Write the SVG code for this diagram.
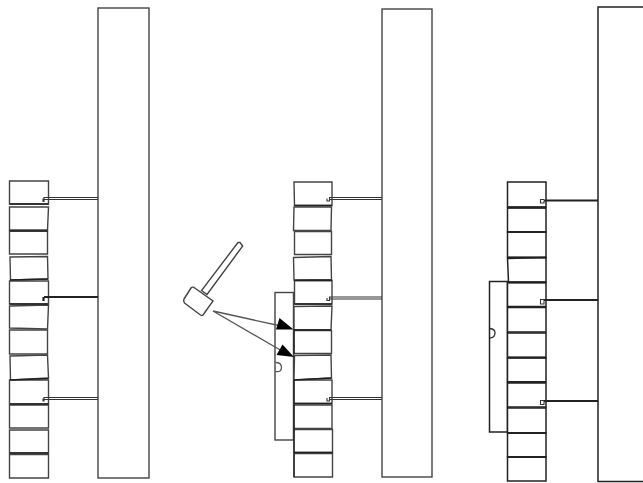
<svg xmlns="http://www.w3.org/2000/svg" width="643" height="483" viewBox="0 0 643 483">
<style>
.o{fill:#fff;stroke:#444;stroke-width:1.4}
.t{fill:#fff;stroke:#222;stroke-width:1.5}
.c{fill:none;stroke:#333;stroke-width:1.1}
.k{fill:none;stroke:#222;stroke-width:2.2}
.j{fill:none;stroke:#222;stroke-width:1.3}
.h{fill:none;stroke:#333;stroke-width:1.3}
.a{fill:#000;stroke:none}
.s{fill:none;stroke:#555;stroke-width:1.3}
</style>
<rect width="643" height="483" fill="#fff"/>
<g id="left-column">
<rect id="l-wall" class="o" x="98" y="8" width="51" height="470"/>
<polygon class="o" points="9.5,181 48.5,181 48.5,204 9.5,204"/>
<polygon class="o" points="9.5,207 48.5,207 47.5,230 9.5,230"/>
<polygon class="o" points="9.5,231 47.5,231 47.5,254 9.5,254"/>
<polygon class="o" points="10,257 47.5,256.500 48,279 10.500,280"/>
<polygon class="o" points="9.500,281 48.500,281 48.500,304 9.500,304"/>
<polygon class="o" points="9.500,306 48.500,305 47.500,329 9.500,328"/>
<polygon class="o" points="9.500,330 47.500,330 47.500,354 9.500,354"/>
<polygon class="o" points="10,356 47.500,355 48.500,378 10.500,380"/>
<polygon class="o" points="9.500,380 48.500,380 48.500,404 9.500,404"/>
<polygon class="o" points="9.500,405 48.500,405 48.500,428 9.500,428"/>
<polygon class="o" points="9.500,430 48.500,430 48.500,453 9.500,453"/>
<polygon class="o" points="9.500,454.500 48.500,454.500 48.500,478 9.500,478"/>
<path class="j" d="M9.500,204H48.500M9.500,231H47.500M10,280L48,279M9.500,304H48M10,380L48.500,378.500M10,404H48.500M9.500,453H48.500"/>
</g>
<g id="middle-column">
<rect id="m-wall" class="o" x="382" y="9" width="50" height="468"/>
<rect id="m-plate" class="o" x="275" y="292.500" width="18.500" height="147.500"/>
<path class="s" d="M275.500,362.500 Q281.500,362.500 281.500,367.500 Q281.500,372.500 275.500,371.500"/>
<polygon class="o" points="294,182 332,182 332,205.500 294.500,205.500"/>
<polygon class="o" points="294,207 331.500,207 331,230.500 293.500,230.500"/>
<polygon class="o" points="294.500,231.500 331.500,231.500 331.500,254.500 294.500,254.500"/>
<polygon class="o" points="293.500,257.500 331,256.500 331.500,279.500 294,280"/>
<polygon class="o" points="294.500,280.500 332,280.500 332,304 294.500,304"/>
<polygon class="o" points="294,306.500 332,306 331,330 294,329.500"/>
<polygon class="o" points="294,330.500 331.500,330.500 331.500,353.500 294,353.500"/>
<polygon class="o" points="294.500,355.500 331,355 331.500,378 294,380"/>
<polygon class="o" points="294,380 332,380 332,403.500 294,403.500"/>
<polygon class="o" points="294,405 332,405 332,428.500 294,428.500"/>
<polygon class="o" points="294,429.500 332.500,429.500 332.500,452.500 294,452.500"/>
<polygon class="o" points="294,453.500 332.500,453.500 332.500,477 294,477"/>
<path class="j" d="M294.500,205.500H332M294.500,280.500H332M294.500,304H332M294,330H331M294,380L331.500,378M294,403.500H332M294,452.500H332.500M294,380V477M294,330V354"/>
</g>
<g id="right-column">
<rect id="r-wall" class="t" x="598" y="7" width="60" height="474.500"/>
<rect id="r-plate" class="t" x="489.500" y="281.500" width="18" height="150.500"/>
<path class="h" d="M490,328.500 Q495,329 495,333 Q495,337.500 490,338"/>
<rect class="t" x="507.500" y="182" width="38.500" height="25"/>
<rect class="t" x="507.500" y="208" width="38.500" height="24"/>
<rect class="t" x="507.500" y="232" width="38.500" height="25.500"/>
<polygon class="t" points="507.500,258.500 546,257.500 546,282 508.500,282"/>
<rect class="t" x="507.500" y="282.500" width="38.500" height="24"/>
<rect class="t" x="507.500" y="307.500" width="38.500" height="24.500"/>
<rect class="t" x="507.500" y="333" width="38.500" height="24.500"/>
<rect class="t" x="507.500" y="358" width="38.500" height="24"/>
<rect class="t" x="507.500" y="383" width="38.500" height="24"/>
<rect class="t" x="507.500" y="408" width="38.500" height="25"/>
<rect class="t" x="507.500" y="433" width="38.500" height="24"/>
<rect class="t" x="507.500" y="457" width="38.500" height="24"/>
<path class="k" d="M507.500,207.500H546M507.500,232H546M507.500,257.500H546M507.500,282.500H546M507.500,307H546M507.500,357.500H546M507.500,382H546M507.500,433H546M507.500,457H546"/>
</g>
<g id="hammer">
<polygon class="o" points="201.500,290.500 207,294.500 242.700,246 240,242.500 238,242.500"/>
<path class="o" d="M184,299 L191,288 Q192,286.500 194,287.500 L213,301 L203,315 Q202,316 200.500,315 L184.500,303 Q183,301 184,299 Z"/>
</g>
<g id="connectors">
<path class="c" d="M98,197.500H44V201.500H43V198.500 M98,199.500H44.500"/>
<path class="k" d="M98,297H44M43.500,297V301"/>
<path class="c" d="M98,397.500H44V401H43V398.500 M98,399.500H44.500"/>
<path class="c" d="M382,197.500H329.500V201H327V198.500 M382,199.500H330"/>
<path class="c" d="M382,297H329.500V300.500H327V298 M382,299H330"/>
<path class="c" d="M382,397.500H329.500V401H327V398 M382,399.500H330"/>
<path class="k" d="M598,200.500H544"/>
<path class="c" d="M544,200.500V203H540.500V199.500H544"/>
<path class="k" d="M598,300H544"/>
<path class="c" d="M544,300V304H540.500V299.500H544"/>
<path class="k" d="M598,401H544"/>
<path class="c" d="M544,401V404.500H540.500V400.500H544"/>
<path class="s" d="M213,311L281,326M213,311L282,351"/>
<polygon class="a" points="293.500,329.500 279.500,318 276,329.500"/>
<polygon class="a" points="294,357 282.500,344.500 276.500,355"/>
</g>
</svg>
